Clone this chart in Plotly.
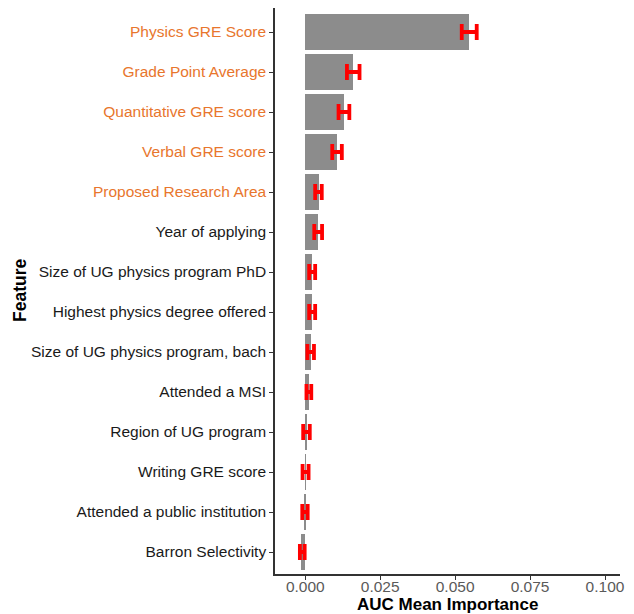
import plotly.graph_objects as go

features = [
    "Physics GRE Score",
    "Grade Point Average",
    "Quantitative GRE score",
    "Verbal GRE score",
    "Proposed Research Area",
    "Year of applying",
    "Size of UG physics program PhD",
    "Highest physics degree offered",
    "Size of UG physics program, bach",
    "Attended a MSI",
    "Region of UG program",
    "Writing GRE score",
    "Attended a public institution",
    "Barron Selectivity",
]
importance = [0.0547, 0.0160, 0.0130, 0.0105, 0.0046, 0.0043, 0.0023, 0.0023,
              0.0019, 0.0013, 0.0004, 0.0001, -0.0001, -0.0013]
err_center = [0.0547, 0.0160, 0.0129, 0.0106, 0.0044, 0.0043, 0.0023, 0.0023,
              0.0018, 0.0012, 0.0004, 0.0001, -0.0001, -0.0010]
err_half = [0.0025, 0.0021, 0.0018, 0.0016, 0.0011, 0.0013, 0.0010, 0.0010,
            0.0011, 0.0008, 0.0011, 0.0010, 0.0009, 0.0008]
highlighted = features[:5]
x_ticks = [0.0, 0.025, 0.05, 0.075, 0.1]
x_ticklabels = ["0.000", "0.025", "0.050", "0.075", "0.100"]

ORANGE = "#E8762D"
FONT = "Liberation Sans, Arial, sans-serif"

fig = go.Figure()
fig.add_trace(go.Bar(
    x=importance, y=features, orientation="h", width=0.9,
    marker=dict(color="#8C8C8C", line=dict(width=0)),
    showlegend=False, hoverinfo="x+y",
))
fig.add_trace(go.Scatter(
    x=err_center, y=features, mode="markers",
    marker=dict(size=1, color="rgba(0,0,0,0)"),
    error_x=dict(type="data", array=err_half, symmetric=True,
                 color="#FF0000", thickness=3.8, width=8),
    showlegend=False,
))

ticktext = [f"<span style='color:{ORANGE}'>{f}</span>" if f in highlighted else f
            for f in features]

fig.update_layout(
    width=626, height=606,
    margin=dict(l=267, r=14, t=0, b=40),
    plot_bgcolor="white", paper_bgcolor="white",
    font=dict(family=FONT, size=15, color="#1A1A1A"),
    bargap=0,
    xaxis=dict(
        range=[-0.0101, 0.105], tickvals=x_ticks, ticktext=x_ticklabels,
        showgrid=False, zeroline=False,
        showline=True, linecolor="#333333", linewidth=1.5,
        ticks="outside", ticklen=4, tickcolor="#333333", tickwidth=1,
        ticklabelstandoff=-6,
        tickfont=dict(family=FONT, size=15.5, color="#5A5A5A"),
    ),
    yaxis=dict(
        type="category", categoryorder="array", categoryarray=features,
        range=[13.55, -0.6], tickvals=features, ticktext=ticktext,
        showgrid=False, zeroline=False,
        showline=True, linecolor="#333333", linewidth=1.5,
        ticks="outside", ticklen=4, tickcolor="#333333", tickwidth=1,
        tickfont=dict(family=FONT, size=15.5, color="#1A1A1A"),
    ),
    annotations=[
        dict(
            text="<b>Feature</b>", xref="paper", yref="paper",
            x=(20 - 275) / 345, y=0.5, xanchor="center", yanchor="middle",
            textangle=-90, showarrow=False,
            font=dict(family=FONT, size=17.5, color="#000000"),
        ),
        dict(
            text="<b>AUC Mean Importance</b>", xref="paper", yref="paper",
            x=0.5, y=-30.5 / 566, xanchor="center", yanchor="middle",
            showarrow=False,
            font=dict(family=FONT, size=17, color="#000000"),
        ),
    ],
)

fig.write_html("out.html")
